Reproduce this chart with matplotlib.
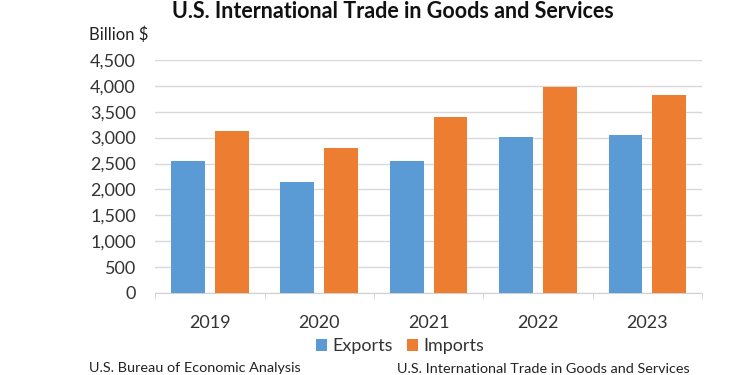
import numpy as np
import matplotlib
matplotlib.use('Agg')
import matplotlib.pyplot as plt
from matplotlib.ticker import FuncFormatter

# data (billion $)
years = ['2019', '2020', '2021', '2022', '2023']
exports = [2546, 2150, 2557, 3018, 3053]
imports = [3124, 2803, 3402, 3970, 3826]

plt.rcParams['font.family'] = ['Lato', 'DejaVu Sans']

fig = plt.figure(figsize=(7.5, 3.75), dpi=100, facecolor='white')
ax = fig.add_axes([0.207, 0.219, 0.729, 0.621])

x = np.arange(len(years))
w = 0.31
ax.bar(x - 0.2, exports, w, color='#5B9BD5', label='Exports', zorder=3)
ax.bar(x + 0.2, imports, w, color='#ED7D31', label='Imports', zorder=3)

ax.set_xlim(-0.5, len(years) - 0.5)
ax.set_ylim(0, 4500)
ax.set_yticks(range(0, 4501, 500))
ax.yaxis.set_major_formatter(FuncFormatter(lambda v, p: f'{int(v):,}'))
ax.grid(axis='y', color='#d9d9d9', linewidth=1, zorder=0)

ax.set_xticks(x)
ax.set_xticklabels(years)
ax.set_xticks(np.arange(-0.5, len(years)), minor=True)
ax.tick_params(axis='x', which='major', length=0, pad=16, labelsize=13, colors='#333333')
ax.tick_params(axis='x', which='minor', length=4, color='#d0d0d0')
ax.tick_params(axis='y', length=0, pad=14, labelsize=13, colors='#333333')

for s in ['top', 'right', 'left']:
    ax.spines[s].set_visible(False)
ax.spines['bottom'].set_color('#d0d0d0')

fig.text(0.524, 0.968, 'U.S. International Trade in Goods and Services',
         ha='center', va='center', fontsize=15.5, fontweight='bold', color='#111111')
fig.text(0.119, 0.907, 'Billion $', ha='left', va='center', fontsize=12, color='#222222')

ax.legend(loc='center', bbox_to_anchor=(0.448, -0.23), ncol=2, frameon=False,
          fontsize=13, handlelength=0.6, handleheight=0.6, handletextpad=0.3,
          columnspacing=0.8, labelcolor='#333333')

fig.text(0.119, 0.018, 'U.S. Bureau of Economic Analysis', ha='left', va='center',
         fontsize=10.4, color='#222222')
fig.text(0.529, 0.016, 'U.S. International Trade in Goods and Services', ha='left',
         va='center', fontsize=10.4, color='#222222')

fig.savefig('out.png', dpi=100, facecolor='white')
